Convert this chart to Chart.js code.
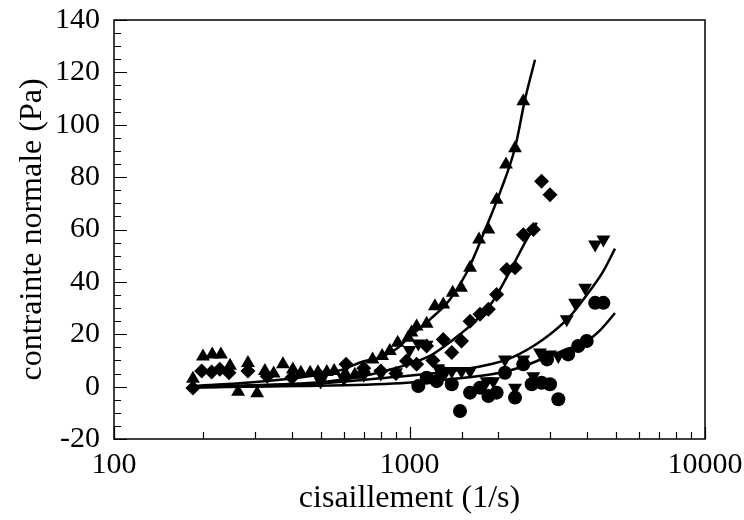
<!DOCTYPE html>
<html>
<head>
<meta charset="utf-8">
<script src="https://cdn.jsdelivr.net/npm/chart.js@4.4.1/dist/chart.umd.min.js"></script>
<style>
    html, body { margin: 0; padding: 0; background: #fff; }
    #wrap { width: 744px; height: 520px; }
</style>
</head>
<body>
<div id="wrap"><canvas id="chart" width="744" height="520"></canvas></div>
<script>
// ▲ series
const upX = [185, 200, 215, 230, 247, 263, 284, 305, 324, 347, 373, 403, 429, 461, 490, 525, 556, 606, 653, 706, 750, 808, 858, 912, 990, 1016, 1057, 1143, 1219, 1301, 1400, 1494, 1603, 1719, 1849, 1972, 2121, 2276, 2427];
const upY = [3, 11.5, 12.3, 12.3, 8, -2, 9, -2.5, 6, 5, 8.5, 6.5, 5.3, 5.3, 5.5, 5.6, 6, 5, 4.5, 6, 10.4, 11.7, 13.6, 16.8, 18.7, 20.7, 23, 24, 30.7, 31.4, 35.8, 37.8, 45.4, 56.2, 60, 71.4, 84.8, 91, 109];

// ◆ series
const diaX = [185, 198, 214, 228, 245, 284, 330, 400, 500, 610, 700, 800, 900, 977, 1057, 1143, 1200, 1301, 1390, 1500, 1603, 1732, 1849, 1972, 2134, 2276, 2427, 2625, 2799, 2989];
const diaY = [-0.5, 6, 5.6, 6.6, 5.3, 6, 4, 3.5, 4, 8.5, 7, 6, 5, 9.8, 8.5, 15.5, 10, 18, 13, 17.4, 25, 27.6, 29.5, 35.2, 44.7, 45.4, 58, 60, 78.4, 73.3];

// ▼ series
const dnX = [500, 600, 700, 800, 900, 1000, 1071, 1143, 1250, 1390, 1500, 1603, 1824, 1921, 2104, 2276, 2427, 2625, 2764, 2989, 3189, 3405, 3634, 3930, 4248, 4530];
const dnY = [2, 3, 4.5, 5, 5.5, 14, 16.5, 16, 7, 6, 6, 6, 2.1, 2.1, 10.4, -0.4, 10.4, 4, 13, 12.3, 11.7, 25.7, 32, 37.8, 54.3, 56.2];

// ● series
const ciX = [1071, 1143, 1236, 1288, 1390, 1482, 1603, 1732, 1849, 1972, 2104, 2276, 2427, 2591, 2799, 2920, 2989, 3189, 3443, 3723, 3978, 4248, 4530];
const ciY = [0.2, 3.4, 2.1, 5.3, 0.9, -9.3, -2.3, -0.4, -3.6, -2.3, 5.3, -4.2, 8.5, 0.9, 1.5, 10.4, 0.9, -4.8, 12.3, 15.5, 17.4, 32, 32];

// fitted curves
const fitUpX = [181, 288, 426, 538, 596, 696, 794, 907, 1004, 1172, 1370, 1562, 1824, 2023, 2276, 2459, 2659];
const fitUpY = [0.2, 1.6, 3.5, 5.3, 6.6, 9.6, 11.2, 14.6, 19.2, 25.6, 33.3, 43.6, 61.3, 74.1, 91.2, 109.6, 124.8];
const fitDiaX = [181, 288, 426, 538, 696, 907, 1172, 1313, 1482, 1687, 1917, 2240, 2459, 2695];
const fitDiaY = [-0.1, 0.5, 1.2, 2.1, 4.0, 7.2, 11.7, 15.4, 20, 25.5, 32.7, 46.3, 55, 62.6];
const fitDnX = [181, 426, 930, 1270, 1732, 2188, 2833, 3491, 4083, 4519, 4960];
const fitDnY = [-0.3, 0.7, 3.9, 5.4, 7.7, 10.8, 18, 26.8, 36.7, 43.9, 52.7];
const fitCiX = [181, 426, 930, 1482, 2023, 2422, 2920, 3228, 3988, 4412, 4960];
const fitCiY = [-0.3, 0.2, 1.3, 3.2, 5.3, 7.7, 11.4, 13.3, 17.5, 21.5, 28.1];

const xMajor = [100, 1000, 10000];
const yMajorStep = 20;

const serif = "'Liberation Serif', 'Times New Roman', serif";
const tickFont = { family: serif, size: 30 };
const titleFont = { family: serif, size: 32 };
const pts = (xs, ys) => xs.map((x, i) => ({ x, y: ys[i] }));

function markers(xs, ys, style, radius, rotation) {
    return {
        data: pts(xs, ys),
        pointStyle: style,
        pointRadius: radius,
        pointRotation: rotation || 0,
        backgroundColor: '#000',
        borderColor: '#000',
        borderWidth: 0,
        showLine: false
    };
}

function curve(xs, ys) {
    return {
        data: pts(xs, ys),
        showLine: true,
        pointRadius: 0,
        borderColor: '#000',
        borderWidth: 2.5,
        cubicInterpolationMode: 'monotone',
        fill: false
    };
}

// frame box and inward ticks
const frameTicks = {
    id: 'frameTicks',
    afterDraw(chart) {
        const { ctx, chartArea: a, scales: { x, y } } = chart;
        ctx.save();
        ctx.strokeStyle = '#000';
        ctx.lineWidth = 1.5;
        ctx.strokeRect(a.left, a.top, a.right - a.left, a.bottom - a.top);
        ctx.lineWidth = 1.2;
        ctx.beginPath();
        x.ticks.forEach(t => {
            const px = Math.round(x.getPixelForValue(t.value)) + 0.5;
            const len = xMajor.includes(t.value) ? 12 : 7;
            ctx.moveTo(px, a.bottom);
            ctx.lineTo(px, a.bottom - len);
        });
        y.ticks.forEach(t => {
            const py = Math.round(y.getPixelForValue(t.value)) + 0.5;
            const len = t.value % yMajorStep === 0 ? 13 : 7;
            ctx.moveTo(a.left, py);
            ctx.lineTo(a.left + len, py);
        });
        ctx.stroke();
        ctx.restore();
    }
};

new Chart(document.getElementById('chart'), {
    type: 'scatter',
    data: {
        datasets: [
            curve(fitUpX, fitUpY),
            curve(fitDiaX, fitDiaY),
            curve(fitDnX, fitDnY),
            curve(fitCiX, fitCiY),
            markers(upX, upY, 'triangle', 8),
            markers(diaX, diaY, 'rectRot', 7.5),
            markers(dnX, dnY, 'triangle', 8, 180),
            markers(ciX, ciY, 'circle', 7)
        ]
    },
    options: {
        responsive: false,
        animation: false,
        layout: { padding: { left: 0, right: 39, top: 20, bottom: 0 } },
        plugins: { legend: { display: false }, tooltip: { enabled: false } },
        scales: {
            x: {
                type: 'logarithmic',
                min: 100,
                max: 10000,
                grid: { display: false, drawTicks: false },
                border: { display: false },
                ticks: {
                    autoSkip: false,
                    maxRotation: 0,
                    color: '#000',
                    font: tickFont,
                    padding: 8,
                    callback: v => xMajor.includes(v) ? String(v) : ''
                },
                title: { display: true, text: 'cisaillement (1/s)', color: '#000', font: titleFont, padding: { top: 0, bottom: 2 } },
                afterFit: s => { s.height = 81; s.paddingLeft = 0; s.paddingRight = 0; }
            },
            y: {
                min: -20,
                max: 140,
                grid: { display: false, drawTicks: false },
                border: { display: false },
                ticks: {
                    stepSize: 5,
                    autoSkip: false,
                    color: '#000',
                    font: tickFont,
                    padding: 14,
                    callback: v => v % yMajorStep === 0 ? String(v) : ''
                },
                title: { display: true, text: 'contrainte normale (Pa)', color: '#000', font: titleFont, padding: { top: 13, bottom: 0 } },
                afterFit: s => { s.width = 114; s.paddingTop = 0; s.paddingBottom = 0; }
            }
        }
    },
    plugins: [frameTicks]
});
</script>
</body>
</html>
